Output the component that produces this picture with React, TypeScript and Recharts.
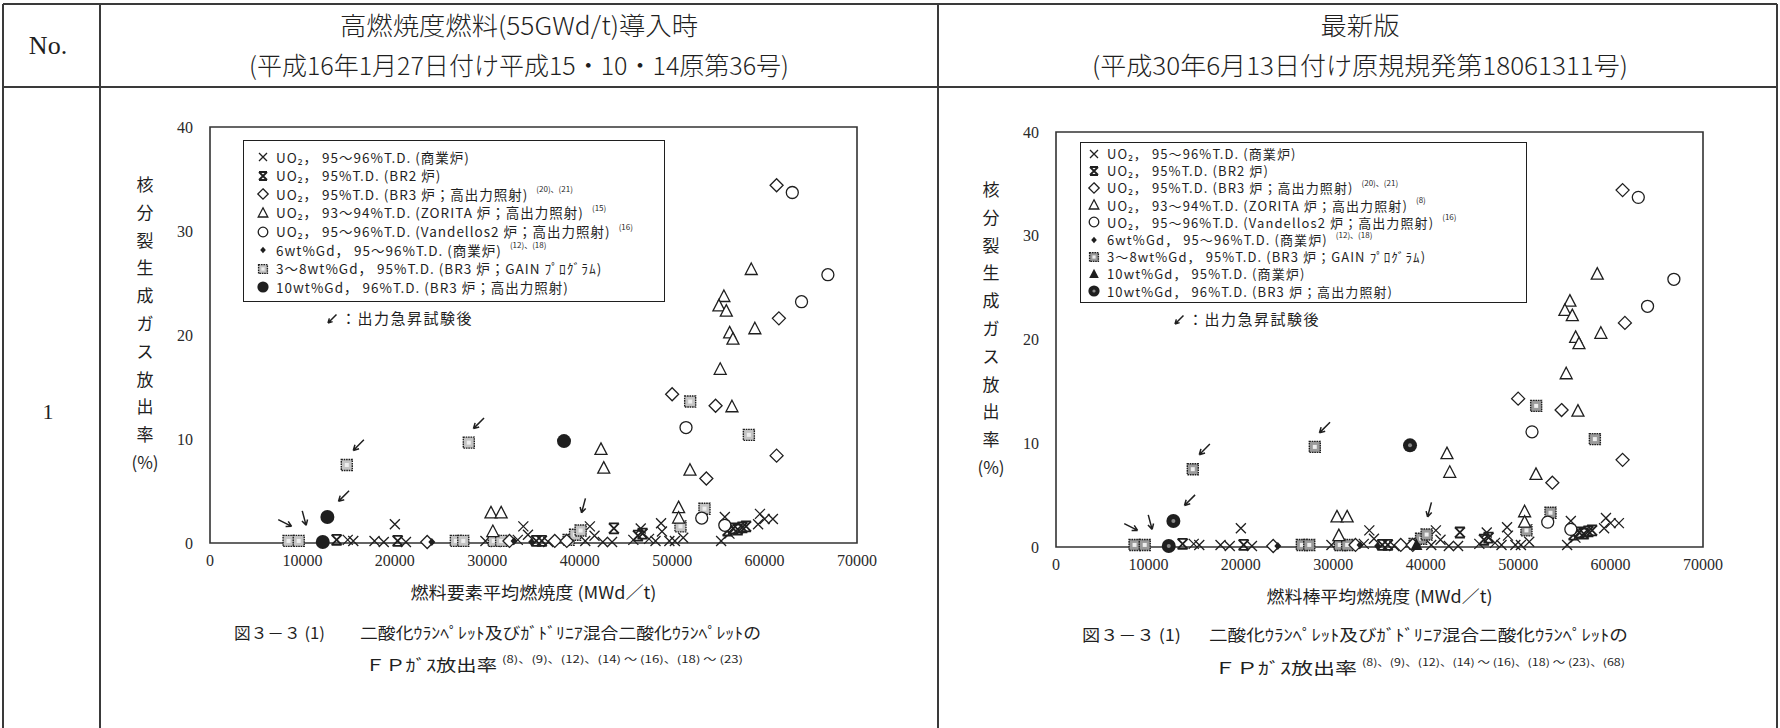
import React from 'react';
import { ScatterChart, Scatter, XAxis, YAxis, Legend, ReferenceArea } from 'recharts';

const xTicks = [0, 10000, 20000, 30000, 40000, 50000, 60000, 70000];
const yTicks = [0, 10, 20, 30, 40];
const yLabelChars = ['核', '分', '裂', '生', '成', 'ガ', 'ス', '放', '出', '率', '(%)'];

// UO2 95~96%T.D. (commercial)
const uo2Commercial = [
  { x: 14900, y: 0.3 }, { x: 15500, y: 0.2 }, { x: 17800, y: 0.2 }, { x: 18800, y: 0.1 },
  { x: 20000, y: 1.8 }, { x: 21200, y: 0.1 }, { x: 29800, y: 0.2 }, { x: 30900, y: 0.1 },
  { x: 33300, y: 0.3 }, { x: 33900, y: 1.6 }, { x: 34400, y: 0.8 }, { x: 36600, y: 0.1 },
  { x: 40600, y: 0.2 }, { x: 41100, y: 1.6 }, { x: 41600, y: 0.7 }, { x: 42500, y: 0.1 },
  { x: 43500, y: 0.1 }, { x: 45800, y: 0.3 }, { x: 46600, y: 1.4 }, { x: 47500, y: 0.4 },
  { x: 48200, y: 0.2 }, { x: 48800, y: 1.9 }, { x: 48900, y: 1.1 }, { x: 49700, y: 0.2 },
  { x: 50300, y: 0.2 }, { x: 51200, y: 0.5 }, { x: 55300, y: 0.2 }, { x: 55700, y: 2.5 },
  { x: 56200, y: 0.9 }, { x: 59500, y: 2.8 }, { x: 60000, y: 2.3 }, { x: 60900, y: 2.3 },
  { x: 59300, y: 1.8 },
];
// UO2 95%T.D. (BR2)
const uo2Br2 = [
  { x: 13700, y: 0.3 }, { x: 20300, y: 0.2 }, { x: 35300, y: 0.2 }, { x: 35900, y: 0.2 },
  { x: 43700, y: 1.4 }, { x: 46300, y: 0.7 }, { x: 46800, y: 0.9 }, { x: 56000, y: 1.2 },
  { x: 56600, y: 1.4 }, { x: 57100, y: 1.3 }, { x: 57600, y: 1.5 }, { x: 58000, y: 1.6 },
];
// UO2 95%T.D. (BR3, high power)
const uo2Br3 = [
  { x: 61300, y: 34.4 }, { x: 61550, y: 21.6 }, { x: 50000, y: 14.3 }, { x: 54700, y: 13.2 },
  { x: 53700, y: 6.2 }, { x: 61300, y: 8.4 }, { x: 23500, y: 0.1 }, { x: 32400, y: 0.2 },
  { x: 37300, y: 0.2 }, { x: 38600, y: 0.2 },
];
// UO2 93~94%T.D. (ZORITA)
const uo2Zorita = [
  { x: 58560, y: 26.3 }, { x: 55600, y: 23.7 }, { x: 55060, y: 22.8 }, { x: 55860, y: 22.3 },
  { x: 58950, y: 20.6 }, { x: 56220, y: 20.2 }, { x: 56580, y: 19.6 }, { x: 55200, y: 16.7 },
  { x: 56470, y: 13.1 }, { x: 42300, y: 9.0 }, { x: 42600, y: 7.2 }, { x: 51930, y: 7.0 },
  { x: 30400, y: 2.9 }, { x: 31500, y: 2.9 }, { x: 50700, y: 3.4 }, { x: 50700, y: 2.4 },
  { x: 30600, y: 1.1 },
];
// UO2 95~96%T.D. (Vandellos2)
const uo2Vandellos = [
  { x: 63000, y: 33.7 }, { x: 66850, y: 25.8 }, { x: 64000, y: 23.2 }, { x: 51500, y: 11.1 },
  { x: 53200, y: 2.4 }, { x: 55700, y: 1.7 },
];
// 6wt%Gd (commercial)
const gd6Commercial = [{ x: 24000, y: 0.1 }, { x: 32900, y: 0.2 }, { x: 34800, y: 0.1 }];
// 3~8wt%Gd (BR3, GAIN)
const gdGain = [
  { x: 14800, y: 7.5 }, { x: 28000, y: 9.65 }, { x: 51950, y: 13.6 }, { x: 58300, y: 10.4 },
  { x: 53500, y: 3.3 }, { x: 50900, y: 1.6 }, { x: 8500, y: 0.2 }, { x: 9600, y: 0.2 },
  { x: 26600, y: 0.2 }, { x: 27400, y: 0.2 }, { x: 30700, y: 0.2 }, { x: 31500, y: 0.2 },
  { x: 38800, y: 0.3 }, { x: 39500, y: 0.8 }, { x: 40100, y: 1.2 },
];
// 10wt%Gd 96%T.D. (BR3, high power)
const gd10Br3 = [{ x: 12700, y: 2.5 }, { x: 38300, y: 9.8 }, { x: 12200, y: 0.1 }];
// 10wt%Gd 95%T.D. (commercial) - latest edition only
const gd10Commercial = [{ x: 39000, y: 0.2 }];
// power ramp arrows (tip position, direction in degrees)
const rampArrows = [
  { x: 8830, y: 1.6, a: 27 }, { x: 10400, y: 1.7, a: 75 }, { x: 13900, y: 4.0, a: 135 },
  { x: 15500, y: 8.9, a: 135 }, { x: 28500, y: 11.0, a: 135 }, { x: 40200, y: 2.9, a: 105 },
];

const oldLabels = [
  'UO₂， 95～96%T.D. (商業炉)',
  'UO₂， 95%T.D. (BR2 炉)',
  'UO₂， 95%T.D. (BR3 炉；高出力照射)',
  'UO₂， 93～94%T.D. (ZORITA 炉；高出力照射)',
  'UO₂， 95～96%T.D. (Vandellos2 炉；高出力照射)',
  '6wt%Gd， 95～96%T.D. (商業炉)',
  '3～8wt%Gd， 95%T.D. (BR3 炉；GAIN ﾌﾟﾛｸﾞﾗﾑ)',
  '10wt%Gd， 96%T.D. (BR3 炉；高出力照射)',
];
const oldRefs = ['', '', '(20)、(21)', '(15)', '(16)', '(12)、(18)', '', ''];
const newLabels = [
  'UO₂， 95～96%T.D. (商業炉)',
  'UO₂， 95%T.D. (BR2 炉)',
  'UO₂， 95%T.D. (BR3 炉；高出力照射)',
  'UO₂， 93～94%T.D. (ZORITA 炉；高出力照射)',
  'UO₂， 95～96%T.D. (Vandellos2 炉；高出力照射)',
  '6wt%Gd， 95～96%T.D. (商業炉)',
  '3～8wt%Gd， 95%T.D. (BR3 炉；GAIN ﾌﾟﾛｸﾞﾗﾑ)',
  '10wt%Gd， 95%T.D. (商業炉)',
  '10wt%Gd， 96%T.D. (BR3 炉；高出力照射)',
];
const newRefs = ['', '', '(20)、(21)', '(8)', '(16)', '(12)、(18)', '', '', ''];

const INK = '#1f1f1f';
const CJK = '"Noto Sans CJK JP", "Noto Sans", sans-serif';
const SERIF = '"Liberation Serif", "DejaVu Serif", serif';

function drawMarker(kind: string, cx: number, cy: number, variant: string, angle = 0, s = 1) {
  const sw = 1.3;
  switch (kind) {
    case 'cross':
      return <path d={`M${cx - 5 * s},${cy - 5 * s}L${cx + 5 * s},${cy + 5 * s}M${cx + 5 * s},${cy - 5 * s}L${cx - 5 * s},${cy + 5 * s}`} stroke={INK} strokeWidth={sw} fill="none" />;
    case 'star':
      return <path d={`M${cx - 5 * s},${cy - 5 * s}L${cx + 5 * s},${cy + 5 * s}M${cx + 5 * s},${cy - 5 * s}L${cx - 5 * s},${cy + 5 * s}M${cx - 5 * s},${cy - 5 * s}H${cx + 5 * s}M${cx - 5 * s},${cy + 5 * s}H${cx + 5 * s}`} stroke={INK} strokeWidth={1.8} fill="none" />;
    case 'diamond':
      return <path d={`M${cx},${cy - 6.5 * s}L${cx + 6.5 * s},${cy}L${cx},${cy + 6.5 * s}L${cx - 6.5 * s},${cy}Z`} stroke={INK} strokeWidth={sw} fill="#fff" />;
    case 'triangle':
      return <path d={`M${cx},${cy - 6.5 * s}L${cx + 6 * s},${cy + 5 * s}L${cx - 6 * s},${cy + 5 * s}Z`} stroke={INK} strokeWidth={sw} fill="#fff" />;
    case 'circle':
      return <circle cx={cx} cy={cy} r={6 * s} stroke={INK} strokeWidth={sw} fill="#fff" />;
    case 'gd6':
      return <path d={`M${cx},${cy - 4 * s}L${cx + 3.5 * s},${cy}L${cx},${cy + 4 * s}L${cx - 3.5 * s},${cy}Z`} fill={INK} />;
    case 'square':
      return (
        <g>
          <rect x={cx - 5.5 * s} y={cy - 5.5 * s} width={11 * s} height={11 * s} stroke={INK} strokeWidth={1.4} strokeDasharray="1.6 0.8" fill={variant === 'new' ? '#9a9a9a' : '#c4c4c4'} />
          <rect x={cx - 2 * s} y={cy - 2 * s} width={4 * s} height={4 * s} fill="#eee" />
        </g>
      );
    case 'dot':
      return (
        <g>
          <circle cx={cx} cy={cy} r={7 * s} fill={INK} />
          {variant === 'new' && <circle cx={cx} cy={cy} r={2 * s} fill="#888" />}
        </g>
      );
    case 'tri':
      return <path d={`M${cx},${cy - 6.5 * s}L${cx + 6 * s},${cy + 5 * s}L${cx - 6 * s},${cy + 5 * s}Z`} fill={INK} />;
    case 'arrow': {
      const r = (angle * Math.PI) / 180;
      const L = 15 * s;
      const sx = cx - L * Math.cos(r);
      const sy = cy - L * Math.sin(r);
      const h1 = r + Math.PI - 0.5;
      const h2 = r + Math.PI + 0.5;
      return (
        <path
          d={`M${sx},${sy}L${cx},${cy}M${cx},${cy}L${cx + 6 * s * Math.cos(h1)},${cy + 6 * s * Math.sin(h1)}M${cx},${cy}L${cx + 6 * s * Math.cos(h2)},${cy + 6 * s * Math.sin(h2)}`}
          stroke={INK}
          strokeWidth={1.5}
          fill="none"
        />
      );
    }
    default:
      return <g />;
  }
}

const shapeOf = (kind: string, variant: string) => (p: any) => {
  if (p == null || p.cx == null || p.cy == null) return <g />;
  return drawMarker(kind, p.cx, p.cy, variant, p.payload?.a ?? 0);
};

const oldSeries = [
  { name: 'uo2Commercial', data: uo2Commercial, kind: 'cross' },
  { name: 'uo2Br2', data: uo2Br2, kind: 'star' },
  { name: 'gdGain', data: gdGain, kind: 'square' },
  { name: 'uo2Br3', data: uo2Br3, kind: 'diamond' },
  { name: 'uo2Zorita', data: uo2Zorita, kind: 'triangle' },
  { name: 'uo2Vandellos', data: uo2Vandellos, kind: 'circle' },
  { name: 'gd6Commercial', data: gd6Commercial, kind: 'gd6' },
  { name: 'gd10Br3', data: gd10Br3, kind: 'dot' },
  { name: 'rampArrows', data: rampArrows, kind: 'arrow' },
];
const newSeries = [...oldSeries, { name: 'gd10Commercial', data: gd10Commercial, kind: 'tri' }];

const oldKinds = ['cross', 'star', 'diamond', 'triangle', 'circle', 'gd6', 'square', 'dot'];
const newKinds = ['cross', 'star', 'diamond', 'triangle', 'circle', 'gd6', 'square', 'tri', 'dot'];

function LegendBox({ labels, refs, kinds, variant, boxWidth, rowH, padTop, padBottom, padLeft, fontSize, spacing, noteLeft, noteTop }: any) {
  return (
    <div style={{ fontFamily: CJK, color: INK, lineHeight: 1, width: boxWidth }}>
      <div style={{ boxSizing: 'border-box', width: boxWidth, border: `1.5px solid ${INK}`, background: '#fff', padding: `${padTop}px 0 ${padBottom}px ${padLeft}px` }}>
        {labels.map((label: string, i: number) => (
          <div key={i} style={{ display: 'flex', alignItems: 'center', height: rowH, fontSize, letterSpacing: spacing, whiteSpace: 'nowrap' }}>
            <svg width={14} height={14} style={{ flex: 'none', marginRight: 6 }}>
              {drawMarker(kinds[i], 7, 7, variant, 0, 0.8)}
            </svg>
            <span>{label}</span>
            {refs[i] && <span style={{ fontSize: 8, position: 'relative', top: -5, marginLeft: 8, letterSpacing: 0 }}>{refs[i]}</span>}
          </div>
        ))}
      </div>
      <div style={{ marginTop: noteTop, paddingLeft: noteLeft, display: 'flex', alignItems: 'center', fontSize: 15, letterSpacing: 1.5 }}>
        <svg width={16} height={16} style={{ flex: 'none' }}>
          {drawMarker('arrow', 3, 13, variant, 135, 0.8)}
        </svg>
        <span>：出力急昇試験後</span>
      </div>
    </div>
  );
}

function BurnupChart({ variant, left, top, margin, xLabel, xLabelLen, series, legend, legendPos }: any) {
  return (
    <div style={{ position: 'absolute', left, top }}>
      <ScatterChart width={800} height={540} margin={margin}>
        <XAxis
          type="number"
          dataKey="x"
          domain={[0, 70000]}
          ticks={xTicks}
          interval={0}
          height={60}
          axisLine={false}
          tickLine={false}
          tickSize={0}
          tickMargin={12}
          tick={{ fontSize: 16, fill: '#2a2a2a', fontFamily: SERIF }}
          label={{
            content: (p: any) => {
              const vb = p.viewBox || {};
              return (
                <text x={vb.x + vb.width / 2} y={vb.y + 56} textAnchor="middle" fontSize={17} fill={INK} fontFamily={CJK} textLength={xLabelLen} lengthAdjust="spacingAndGlyphs">
                  {xLabel}
                </text>
              );
            },
          }}
        />
        <YAxis
          type="number"
          dataKey="y"
          domain={[0, 40]}
          ticks={yTicks}
          interval={0}
          width={100}
          axisLine={false}
          tickLine={false}
          tickSize={0}
          tickMargin={17}
          tick={{ fontSize: 16, fill: '#2a2a2a', fontFamily: SERIF }}
          label={{
            content: (p: any) => {
              const vb = p.viewBox || {};
              const axisX = vb.x + vb.width;
              return (
                <g>
                  {yLabelChars.map((c, i) => (
                    <text key={i} x={axisX - 65} y={vb.y + 64 + i * 27.8} textAnchor="middle" fontSize={17} fill={INK} fontFamily={CJK}>
                      {c}
                    </text>
                  ))}
                </g>
              );
            },
          }}
        />
        <ReferenceArea x1={0} x2={70000} y1={0} y2={40} fill="none" stroke="#333" strokeWidth={1.6} ifOverflow="visible" />
        {series.map((s: any) => (
          <Scatter key={s.name} name={s.name} data={s.data} shape={shapeOf(s.kind, variant)} isAnimationActive={false} legendType="none" />
        ))}
        <Legend layout="vertical" align="center" verticalAlign="middle" wrapperStyle={legendPos} content={() => legend} />
      </ScatterChart>
    </div>
  );
}

export default function App() {
  return (
    <div style={{ position: 'absolute', left: 0, top: 0, width: 1780, height: 728, background: '#fff', overflow: 'hidden' }}>
      <svg width={1780} height={728} style={{ position: 'absolute', left: 0, top: 0 }}>
        <path d="M3,4H1777M3,87H1777M3,4V728M100,4V728M938,4V728M1777,4V728" stroke="#3a3a3a" strokeWidth={2} fill="none" />
        <text x={48} y={45} textAnchor="middle" dominantBaseline="central" fontSize={26} fontFamily={SERIF} fill={INK}>No.</text>
        <text x={519} y={24} textAnchor="middle" dominantBaseline="central" fontSize={25} fontWeight={300} fontFamily={CJK} fill={INK} textLength={358} lengthAdjust="spacingAndGlyphs">高燃焼度燃料(55GWd/t)導入時</text>
        <text x={519} y={64} textAnchor="middle" dominantBaseline="central" fontSize={25} fontWeight={300} fontFamily={CJK} fill={INK} textLength={540} lengthAdjust="spacingAndGlyphs">(平成16年1月27日付け平成15・10・14原第36号)</text>
        <text x={1360} y={24} textAnchor="middle" dominantBaseline="central" fontSize={25} fontWeight={300} fontFamily={CJK} fill={INK} textLength={79} lengthAdjust="spacingAndGlyphs">最新版</text>
        <text x={1360} y={64} textAnchor="middle" dominantBaseline="central" fontSize={25} fontWeight={300} fontFamily={CJK} fill={INK} textLength={536} lengthAdjust="spacingAndGlyphs">(平成30年6月13日付け原規規発第18061311号)</text>
        <text x={48} y={411} textAnchor="middle" dominantBaseline="central" fontSize={22} fontFamily={SERIF} fill={INK}>1</text>

        <text x={234} y={632} dominantBaseline="central" fontSize={16} fontFamily={CJK} fill={INK} textLength={91} lengthAdjust="spacingAndGlyphs">図３－３ (1)</text>
        <text x={360} y={632} dominantBaseline="central" fontSize={16} fontFamily={CJK} fill={INK} textLength={401} lengthAdjust="spacingAndGlyphs">二酸化ｳﾗﾝﾍﾟﾚｯﾄ及びｶﾞﾄﾞﾘﾆｱ混合二酸化ｳﾗﾝﾍﾟﾚｯﾄの</text>
        <text x={365} y={664} dominantBaseline="central" fontSize={16} fontFamily={CJK} fill={INK} textLength={132} lengthAdjust="spacingAndGlyphs">ＦＰｶﾞｽ放出率</text>
        <text x={502} y={658} dominantBaseline="central" fontSize={10} fontFamily={CJK} fill={INK} textLength={241} lengthAdjust="spacingAndGlyphs">(8)、(9)、(12)、(14) ～ (16)、(18) ～ (23)</text>

        <text x={1082} y={634} dominantBaseline="central" fontSize={16} fontFamily={CJK} fill={INK} textLength={99} lengthAdjust="spacingAndGlyphs">図３－３ (1)</text>
        <text x={1209} y={634} dominantBaseline="central" fontSize={16} fontFamily={CJK} fill={INK} textLength={419} lengthAdjust="spacingAndGlyphs">二酸化ｳﾗﾝﾍﾟﾚｯﾄ及びｶﾞﾄﾞﾘﾆｱ混合二酸化ｳﾗﾝﾍﾟﾚｯﾄの</text>
        <text x={1214} y={667} dominantBaseline="central" fontSize={16} fontFamily={CJK} fill={INK} textLength={143} lengthAdjust="spacingAndGlyphs">ＦＰｶﾞｽ放出率</text>
        <text x={1362} y={661} dominantBaseline="central" fontSize={10} fontFamily={CJK} fill={INK} textLength={263} lengthAdjust="spacingAndGlyphs">(8)、(9)、(12)、(14) ～ (16)、(18) ～ (23)、(68)</text>
      </svg>

      <BurnupChart
        variant="old"
        left={100}
        top={90}
        margin={{ top: 37, right: 43, bottom: 27, left: 10 }}
        xLabel="燃料要素平均燃焼度 (MWd／t)"
        xLabelLen={246}
        series={oldSeries}
        legendPos={{ left: 143, top: 50, width: 422 }}
        legend={<LegendBox labels={oldLabels} refs={oldRefs} kinds={oldKinds} variant="old" boxWidth={422} rowH={18.6} padTop={7} padBottom={4} padLeft={12} fontSize={13.5} spacing={1} noteLeft={82} noteTop={8} />}
      />
      <BurnupChart
        variant="new"
        left={938}
        top={95}
        margin={{ top: 37, right: 35, bottom: 28, left: 18 }}
        xLabel="燃料棒平均燃焼度 (MWd／t)"
        xLabelLen={226}
        series={newSeries}
        legendPos={{ left: 142, top: 47, width: 447 }}
        legend={<LegendBox labels={newLabels} refs={newRefs} kinds={newKinds} variant="new" boxWidth={447} rowH={17.2} padTop={2} padBottom={2} padLeft={6} fontSize={13} spacing={1.1} noteLeft={92} noteTop={8} />}
      />
    </div>
  );
}
